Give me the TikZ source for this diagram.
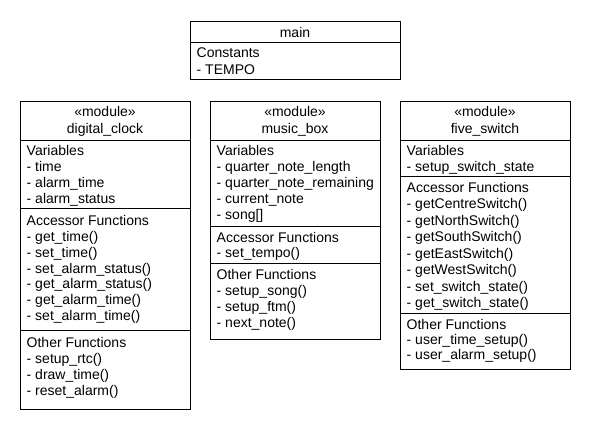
\documentclass[tikz,border=0pt]{standalone}
\usepackage{fontspec}
\setmainfont{Liberation Sans}
\newcommand{\umlfont}{\fontsize{14}{16}\selectfont}
\tikzset{
  frame/.style={draw=black, line width=0.9pt},
  sep/.style={draw=black, line width=0.9pt},
  row/.style={anchor=base west, inner sep=0pt, font=\umlfont},
  hdr/.style={anchor=base, inner sep=0pt, font=\umlfont}
}
\begin{document}
\begin{tikzpicture}[x=1pt, y=-1pt]
\useasboundingbox (0,0) rectangle (590,430);
\fill[white] (0,0) rectangle (590,430);

% ---------- main ----------
\draw[frame] (190,21) rectangle (400,79.3);
\draw[sep] (190,42.3) -- (400,42.3);
\node[hdr] (mainT) at (295,38) {main};
\node[row] (mainC) at (196.5,58) {Constants};
\node[row] (mainC1) at (196.5,75) {- TEMPO};

% ---------- digital_clock ----------
\draw[frame] (20,101) rectangle (190,409);
\draw[sep] (20,140) -- (190,140);
\draw[sep] (20,208.5) -- (190,208.5);
\draw[sep] (20,330) -- (190,330);
\node[hdr] (dcS) at (105,117) {«module»};
\node[hdr] (dcN) at (105,134) {digital\_clock};
\node[row] (dcV) at (26.5,156) {Variables};
\node[row] (dcV1) at (26.5,172) {- time};
\node[row] (dcV2) at (26.5,188) {- alarm\_time};
\node[row] (dcV3) at (26.5,204) {- alarm\_status};
\node[row] (dcA) at (26.5,226) {Accessor Functions};
\node[row] (dcA1) at (26.5,241.7) {- get\_time()};
\node[row] (dcA2) at (26.5,257.4) {- set\_time()};
\node[row] (dcA3) at (26.5,273.1) {- set\_alarm\_status()};
\node[row] (dcA4) at (26.5,288.8) {- get\_alarm\_status()};
\node[row] (dcA5) at (26.5,304.5) {- get\_alarm\_time()};
\node[row] (dcA6) at (26.5,320.2) {- set\_alarm\_time()};
\node[row] (dcO) at (26.5,348) {Other Functions};
\node[row] (dcO1) at (26.5,364) {- setup\_rtc()};
\node[row] (dcO2) at (26.5,380) {- draw\_time()};
\node[row] (dcO3) at (26.5,396) {- reset\_alarm()};

% ---------- music_box ----------
\draw[frame] (210,101) rectangle (380,339.5);
\draw[sep] (210,140) -- (380,140);
\draw[sep] (210,226.5) -- (380,226.5);
\draw[sep] (210,263) -- (380,263);
\node[hdr] (mbS) at (295,117) {«module»};
\node[hdr] (mbN) at (295,134) {music\_box};
\node[row] (mbV) at (216.5,156) {Variables};
\node[row] (mbV1) at (216.5,172) {- quarter\_note\_length};
\node[row] (mbV2) at (216.5,188) {- quarter\_note\_remaining};
\node[row] (mbV3) at (216.5,204) {- current\_note};
\node[row] (mbV4) at (216.5,220) {- song[]};
\node[row] (mbA) at (216.5,242.5) {Accessor Functions};
\node[row] (mbA1) at (216.5,258) {- set\_tempo()};
\node[row] (mbO) at (216.5,280) {Other Functions};
\node[row] (mbO1) at (216.5,295.7) {- setup\_song()};
\node[row] (mbO2) at (216.5,311.4) {- setup\_ftm()};
\node[row] (mbO3) at (216.5,327.1) {- next\_note()};

% ---------- five_switch ----------
\draw[frame] (400,101) rectangle (570,369);
\draw[sep] (400,140) -- (570,140);
\draw[sep] (400,176) -- (570,176);
\draw[sep] (400,313.3) -- (570,313.3);
\node[hdr] (fsS) at (485,117) {«module»};
\node[hdr] (fsN) at (485,134) {five\_switch};
\node[row] (fsV) at (406.5,156) {Variables};
\node[row] (fsV1) at (406.5,172) {- setup\_switch\_state};
\node[row] (fsA) at (406.5,192.5) {Accessor Functions};
\node[row] (fsA1) at (406.5,209) {- getCentreSwitch()};
\node[row] (fsA2) at (406.5,225.5) {- getNorthSwitch()};
\node[row] (fsA3) at (406.5,242) {- getSouthSwitch()};
\node[row] (fsA4) at (406.5,258.5) {- getEastSwitch()};
\node[row] (fsA5) at (406.5,275) {- getWestSwitch()};
\node[row] (fsA6) at (406.5,291.5) {- set\_switch\_state()};
\node[row] (fsA7) at (406.5,308) {- get\_switch\_state()};
\node[row] (fsO) at (406.5,330) {Other Functions};
\node[row] (fsO1) at (406.5,345) {- user\_time\_setup()};
\node[row] (fsO2) at (406.5,360) {- user\_alarm\_setup()};
\end{tikzpicture}
\end{document}
